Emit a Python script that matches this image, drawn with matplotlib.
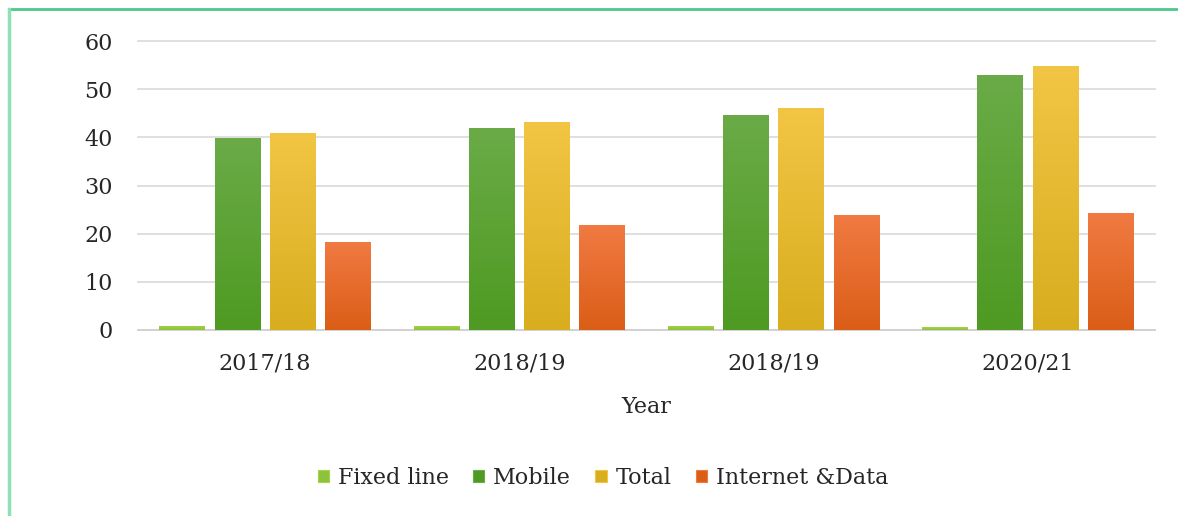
import matplotlib
matplotlib.use("Agg")
import matplotlib.pyplot as plt
import numpy as np
from matplotlib.colors import LinearSegmentedColormap
from matplotlib.lines import Line2D
from matplotlib.patches import Patch

years = ["2017/18", "2018/19", "2018/19", "2020/21"]
fixed_line = [0.9, 0.9, 0.9, 0.6]
mobile = [39.8, 42.0, 44.7, 53.0]
total = [41.0, 43.2, 46.0, 54.9]
internet = [18.3, 21.7, 23.8, 24.2]

series = [
    ("Fixed line", fixed_line, "#A6D24A", "#8DC33A"),
    ("Mobile", mobile, "#6AAB47", "#4E9A22"),
    ("Total", total, "#F2C544", "#D8AD1E"),
    ("Internet &Data", internet, "#F07A42", "#DB5E17"),
]

plt.rcParams['font.family'] = ['DejaVu Serif']

fig = plt.figure(figsize=(11.78, 5.16), dpi=100)
ax = fig.add_axes([138/1178, 1-330/516, (1155-138)/1178, (330-41)/516])

x = np.arange(len(years))
width = 0.18
step = 0.217
offsets = (np.arange(4) - 1.5) * step

handles = []
for i, (name, vals, ctop, cbot) in enumerate(series):
    bars = ax.bar(x + offsets[i], vals, width, color=cbot, zorder=3)
    cmap = LinearSegmentedColormap.from_list(name, [cbot, ctop])
    for b in bars:
        xb, yb = b.get_x(), b.get_y()
        w, h = b.get_width(), b.get_height()
        grad = np.linspace(0, 1, 100).reshape(-1, 1)
        im = ax.imshow(grad, extent=[xb, xb + w, yb, yb + h], origin="lower",
                       cmap=cmap, aspect="auto", zorder=4)
        im.set_clip_path(b)
    handles.append(Patch(facecolor=cbot, edgecolor=ctop, linewidth=0.8, label=name))

ax.set_xlim(-0.5, 3.5)
ax.set_ylim(0, 60)
ax.set_yticks(range(0, 61, 10))
ax.set_xticks(x)
ax.set_xticklabels(years)
ax.yaxis.grid(True, color="#D9D9D9", linewidth=1.2, zorder=0)
for gl in ax.get_ygridlines():
    gl.set_clip_on(False)
ax.set_axisbelow(True)
for s in ["top", "right", "left"]:
    ax.spines[s].set_visible(False)
ax.spines["bottom"].set_color("#D0D0D0")
ax.spines["bottom"].set_linewidth(1.2)
ax.tick_params(axis="both", length=0, labelsize=16, colors="#262626")
ax.tick_params(axis="y", pad=18)
ax.tick_params(axis="x", pad=16)
ax.set_xlabel("Year", fontsize=16, color="#262626", labelpad=16)

fig.legend(handles=handles, loc="center", bbox_to_anchor=(603/1178, 1-478/516),
           ncol=4, frameon=False, fontsize=16, handlelength=0.5, handleheight=0.5,
           handletextpad=0.4, columnspacing=1.1, labelcolor="#262626")

# border
fig.add_artist(Line2D([9/1178, 1], [1-9/516, 1-9/516], transform=fig.transFigure,
                      color="#4DC88A", linewidth=2))
fig.add_artist(Line2D([9/1178, 9/1178], [0, 1-9/516], transform=fig.transFigure,
                      color="#8EE0B5", linewidth=2.5))

fig.savefig("out.png", dpi=100)
